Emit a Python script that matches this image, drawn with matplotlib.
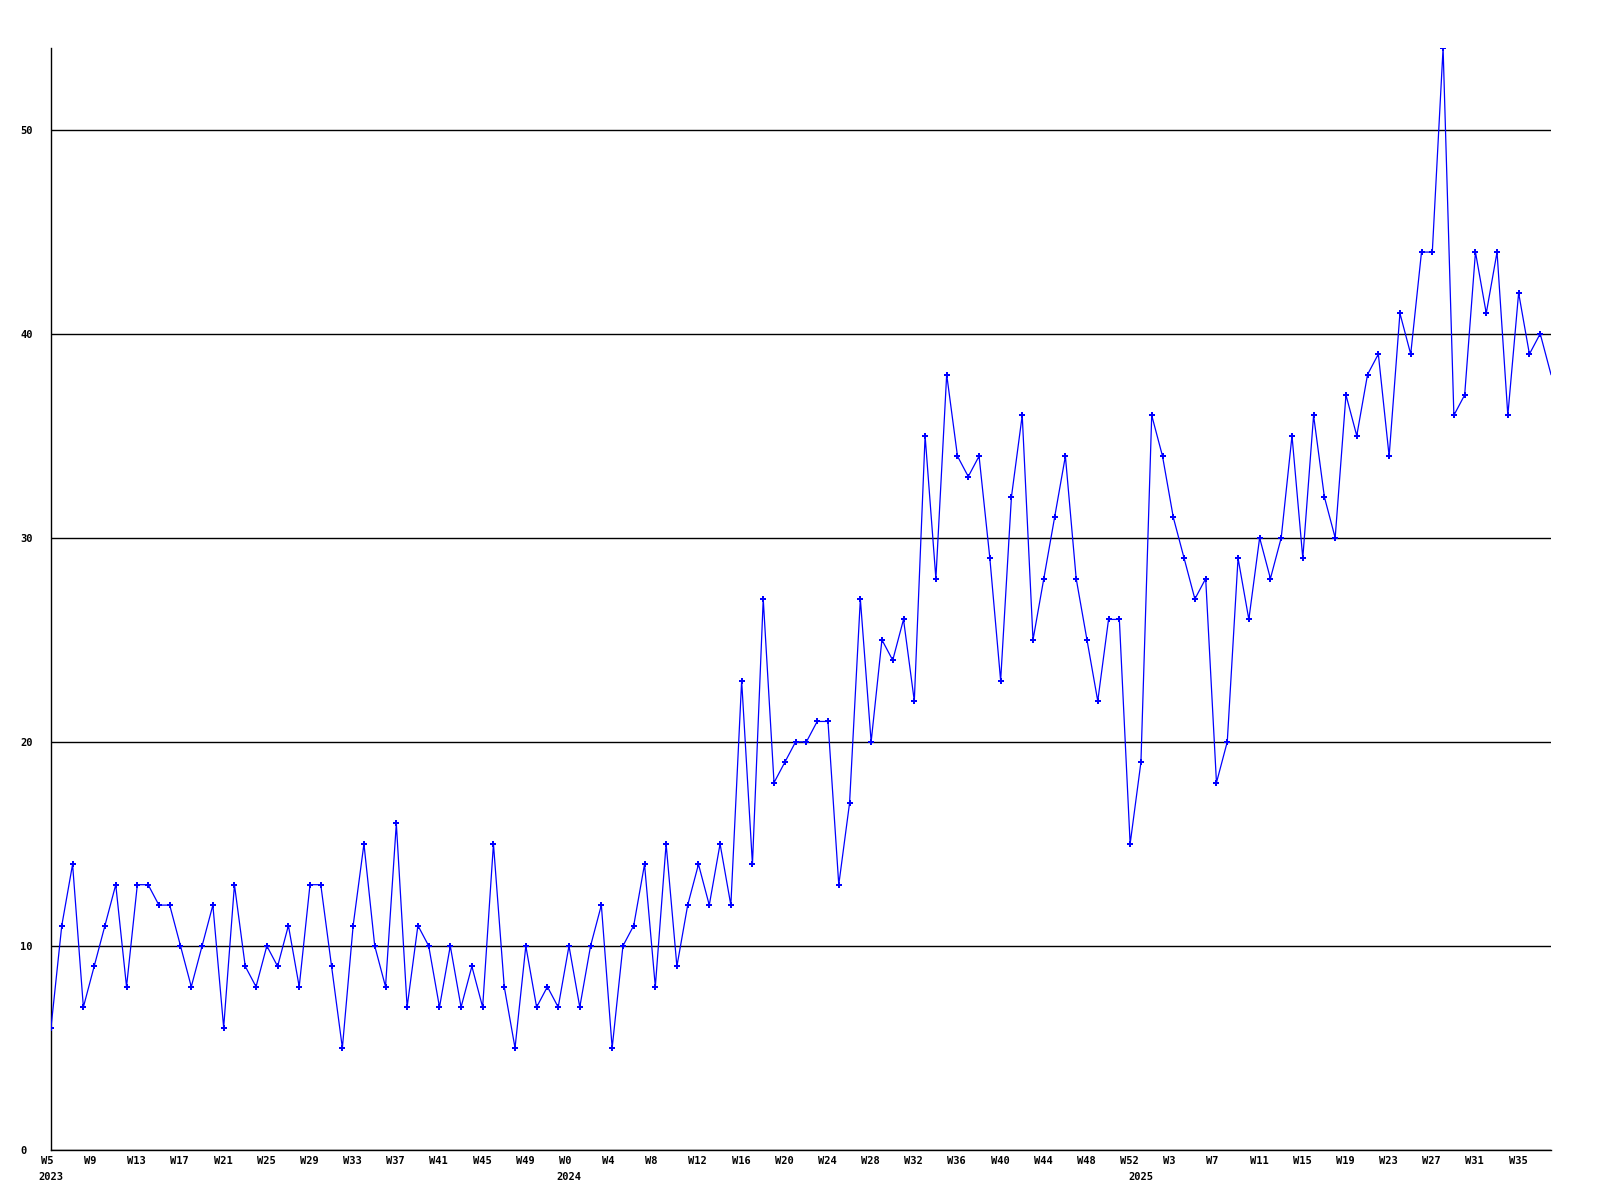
import matplotlib
matplotlib.use("Agg")
import matplotlib.pyplot as plt
import matplotlib.transforms as mtransforms

# ---- data -------------------------------------------------------------
# weekly categories: 2023 W5..W52, 2024 W0..W52, 2025 W0..W38
years = [2023] * 48 + [2024] * 53 + [2025] * 39
weeks = list(range(5, 53)) + list(range(0, 53)) + list(range(0, 39))

values = [
    6, 11, 14, 7, 9, 11, 13, 8, 13, 13, 12, 12, 10, 8, 10, 12, 6, 13, 9, 8,
    10, 9, 11, 8, 13, 13, 9, 5, 11, 15, 10, 8, 16,
    7, 11, 10, 7, 10, 7, 9, 7, 15, 8, 5, 10, 7, 8, 7, 10, 7, 10, 12, 5, 10,
    11, 14, 8, 15, 9, 12, 14, 12, 15, 12, 23, 14,
    27, 18, 19, 20, 20, 21, 21, 13, 17, 27, 20, 25, 24, 26, 22, 35, 28, 38,
    34, 33, 34, 29, 23, 32, 36, 25, 28, 31, 34, 28, 25, 22, 26, 26,
    15, 19, 36, 34, 31, 29, 27, 28, 18, 20, 29, 26, 30, 28, 30, 35, 29, 36,
    32, 30, 37, 35, 38, 39, 34, 41, 39, 44, 44, 54, 36, 37, 44, 41, 44, 36,
    42, 39, 40, 38,
]
y_ticks = [0, 10, 20, 30, 40, 50]
label_step = 4

# ---- figure -----------------------------------------------------------
font = {"family": "DejaVu Sans Mono", "weight": "bold", "size": 7.5}

fig = plt.figure(figsize=(16, 12), dpi=100)
ax = fig.add_axes([51 / 1600, 50 / 1200, 1500 / 1600, 1102 / 1200])

x = list(range(len(values)))
ax.plot(x, values, color="#0000ff", linewidth=0.9, marker="P",
        markersize=4, markeredgewidth=0, clip_on=True, zorder=3,
        markevery=list(range(len(values) - 1)))

ax.set_xlim(0, len(values) - 1)
ax.set_ylim(0, max(values))

for s in ("top", "right"):
    ax.spines[s].set_visible(False)
for s in ("left", "bottom"):
    ax.spines[s].set_linewidth(1.0)
    ax.spines[s].set_color("black")

# horizontal grid
ax.set_yticks(y_ticks)
ax.yaxis.grid(True, color="black", linewidth=1.0)
ax.set_axisbelow(True)
ax.tick_params(axis="y", length=0, pad=22.3)
ax.set_yticklabels([str(v) for v in y_ticks], fontdict=font)
for lab in ax.get_yticklabels():
    lab.set_horizontalalignment("left")

# week labels every 4 weeks, left aligned slightly before the tick
xt = x[::label_step]
ax.set_xticks(xt)
ax.set_xticklabels([f"W{weeks[i]}" for i in xt], fontdict=font)
ax.tick_params(axis="x", length=0, pad=4.5)
offset = mtransforms.ScaledTranslation(-10 / 100, 0, fig.dpi_scale_trans)
for lab in ax.get_xticklabels():
    lab.set_horizontalalignment("left")
    lab.set_transform(lab.get_transform() + offset)

# year labels at the first week of each year
trans = ax.get_xaxis_transform()
seen = set()
for i, yr in enumerate(years):
    if yr not in seen:
        seen.add(yr)
        ax.text(i, -27 / 1102, str(yr), transform=trans, ha="center",
                va="center", fontdict=font)

fig.savefig("out.png", dpi=100, facecolor="white")
